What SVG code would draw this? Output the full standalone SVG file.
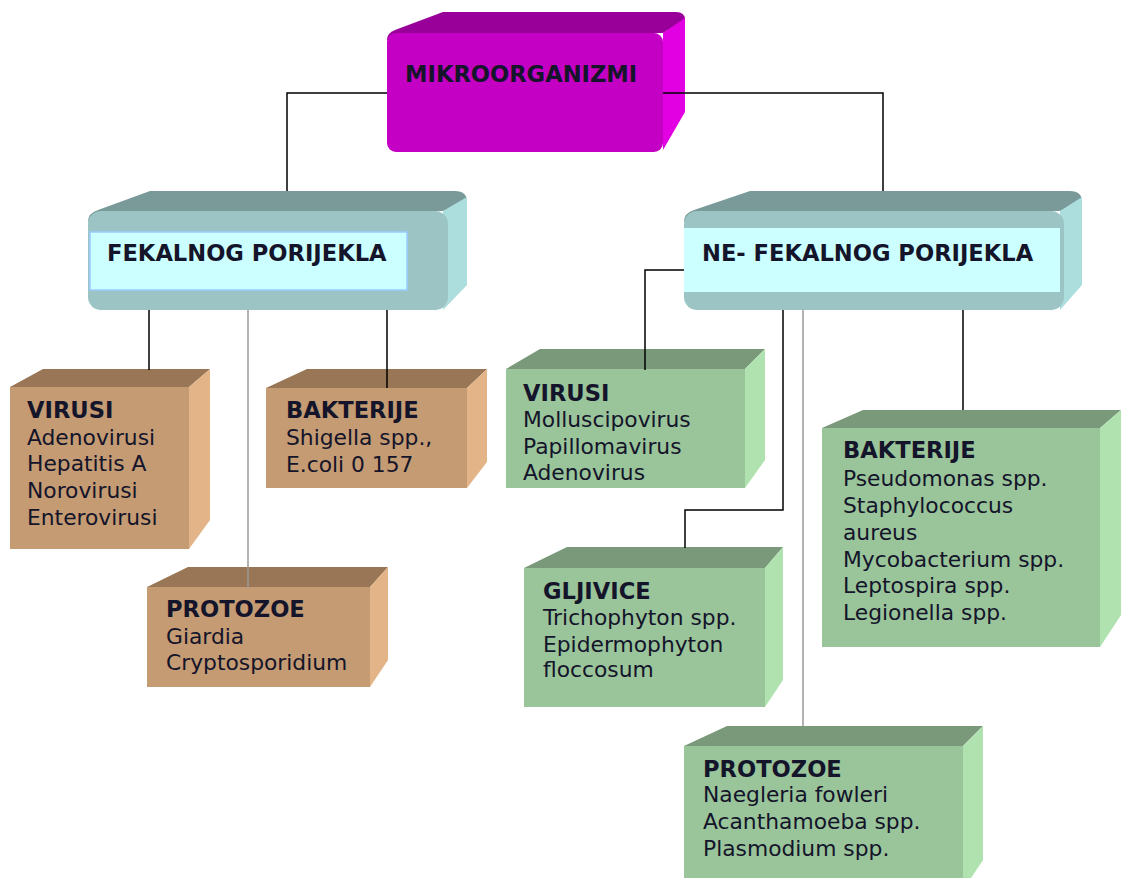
<svg xmlns="http://www.w3.org/2000/svg" width="1121" height="878" viewBox="0 0 1121 878">
<style>
.t{font-family:"DejaVu Sans","Liberation Sans",sans-serif;font-size:21.8px;fill:#14142a}
.b{font-weight:bold;font-size:22.6px}
.mg-f{fill:#C400C4}.mg-t{fill:#990099}.mg-r{fill:#E200E2}
.tl-f{fill:#9CC4C4}.tl-t{fill:#7A9A9A}.tl-r{fill:#ADDEDE}
.br-f{fill:#C49B72}.br-t{fill:#987656}.br-r{fill:#E2B488}
.gr-f{fill:#9AC49A}.gr-t{fill:#7A987A}.gr-r{fill:#B0E2B0}
.inner{fill:#CCFFFF}
.ln{stroke:#000;stroke-width:1.5;fill:none}
.lg{stroke:#999;stroke-width:1.5;fill:none}
</style>
<rect width="1121" height="878" fill="#fff"/>

<g id="mikroorganizmi">
<path class="mg-t" d="M387,40 Q387,33 395,30 L443,12 L676,12 Q685,12 685,20 L663,33 Z"/>
<path class="mg-r" d="M663,33 L685,18 L685,112 L663,150 Z"/>
<rect class="mg-f" x="387" y="33" width="276" height="119" rx="9"/>
<text class="t b" x="405" y="82">MIKROORGANIZMI</text>
</g>

<g id="fekalnog">
<path class="tl-t" d="M88,222 Q88,213 98,210 L150,191 L455,191 Q467,191 467,202 L443,211 Z"/>
<path class="tl-r" d="M443,211 L467,197 L467,285 L443,310 Z"/>
<rect class="tl-f" x="88" y="211" width="360" height="99" rx="13"/>
<rect class="inner" x="90" y="232" width="317" height="58" stroke="#99CCFF" stroke-width="1.5"/>
<text class="t b" x="107" y="261">FEKALNOG PORIJEKLA</text>
</g>

<g id="ne-fekalnog">
<path class="tl-t" d="M684,222 Q684,213 694,210 L750,191 L1070,191 Q1082,191 1082,202 L1060,211 Z"/>
<path class="tl-r" d="M1060,211 L1082,197 L1082,285 L1060,310 Z"/>
<rect class="tl-f" x="684" y="211" width="380" height="99" rx="13"/>
<rect class="inner" x="684" y="228" width="376" height="64"/>
<text class="t b" x="702" y="261">NE- FEKALNOG PORIJEKLA</text>
</g>

<g id="virusi-fek">
<polygon class="br-t" points="10,387 43,369 210,369 189,387"/>
<polygon class="br-r" points="189,387 210,369 210,520 189,549"/>
<rect class="br-f" x="10" y="387" width="179" height="162"/>
<text class="t b" x="27" y="418">VIRUSI</text>
<text class="t" x="27" y="445">Adenovirusi</text>
<text class="t" x="27" y="471">Hepatitis A</text>
<text class="t" x="27" y="498">Norovirusi</text>
<text class="t" x="27" y="525">Enterovirusi</text>
</g>

<g id="bakterije-fek">
<polygon class="br-t" points="266,388 307,369 487,369 467,388"/>
<polygon class="br-r" points="467,388 487,369 487,462 467,488"/>
<rect class="br-f" x="266" y="388" width="201" height="100"/>
<text class="t b" x="286" y="418">BAKTERIJE</text>
<text class="t" x="286" y="445">Shigella spp.,</text>
<text class="t" x="286" y="472">E.coli 0 157</text>
</g>

<g id="protozoe-fek">
<polygon class="br-t" points="147,587 188,567 388,567 370,587"/>
<polygon class="br-r" points="370,587 388,567 388,660 370,687"/>
<rect class="br-f" x="147" y="587" width="223" height="100"/>
<text class="t b" x="166" y="617">PROTOZOE</text>
<text class="t" x="166" y="644">Giardia</text>
<text class="t" x="166" y="670">Cryptosporidium</text>
</g>

<g id="virusi-nefek">
<polygon class="gr-t" points="506,369 540,349 765,349 745,369"/>
<polygon class="gr-r" points="745,369 765,349 765,460 745,488"/>
<rect class="gr-f" x="506" y="369" width="239" height="119"/>
<text class="t b" x="523" y="401">VIRUSI</text>
<text class="t" x="523" y="427">Molluscipovirus</text>
<text class="t" x="523" y="454">Papillomavirus</text>
<text class="t" x="523" y="480">Adenovirus</text>
</g>

<g id="bakterije-nefek">
<polygon class="gr-t" points="822,428 863,410 1121,410 1100,428"/>
<polygon class="gr-r" points="1100,428 1121,410 1121,615 1100,647"/>
<rect class="gr-f" x="822" y="428" width="278" height="219"/>
<text class="t b" x="843" y="458">BAKTERIJE</text>
<text class="t" x="843" y="486">Pseudomonas spp.</text>
<text class="t" x="843" y="513">Staphylococcus</text>
<text class="t" x="843" y="540">aureus</text>
<text class="t" x="843" y="567">Mycobacterium spp.</text>
<text class="t" x="843" y="593">Leptospira spp.</text>
<text class="t" x="843" y="620">Legionella spp.</text>
</g>

<g id="gljivice">
<polygon class="gr-t" points="524,568 567,547 783,547 765,568"/>
<polygon class="gr-r" points="765,568 783,547 783,680 765,707"/>
<rect class="gr-f" x="524" y="568" width="241" height="139"/>
<text class="t b" x="543" y="599">GLJIVICE</text>
<text class="t" x="543" y="625">Trichophyton spp.</text>
<text class="t" x="543" y="652">Epidermophyton</text>
<text class="t" x="543" y="677">floccosum</text>
</g>

<g id="protozoe-nefek">
<polygon class="gr-t" points="684,746 727,726 983,726 963,746"/>
<polygon class="gr-r" points="963,746 983,726 983,860 963,890"/>
<rect class="gr-f" x="684" y="746" width="279" height="140"/>
<text class="t b" x="703" y="777">PROTOZOE</text>
<text class="t" x="703" y="802">Naegleria fowleri</text>
<text class="t" x="703" y="829">Acanthamoeba spp.</text>
<text class="t" x="703" y="856">Plasmodium spp.</text>
</g>

<g id="connectors">
<polyline class="ln" points="387,93 287,93 287,191"/>
<polyline class="ln" points="663,93 883,93 883,191"/>
<line class="ln" x1="149" y1="310" x2="149" y2="370"/>
<line class="lg" x1="248" y1="310" x2="248" y2="588"/>
<line class="ln" x1="387" y1="310" x2="387" y2="388"/>
<polyline class="ln" points="684,270 645,270 645,370"/>
<polyline class="ln" points="783,310 783,510 685,510 685,548"/>
<line class="lg" x1="803" y1="310" x2="803" y2="726"/>
<line class="ln" x1="963" y1="310" x2="963" y2="410"/>
</g>
</svg>
